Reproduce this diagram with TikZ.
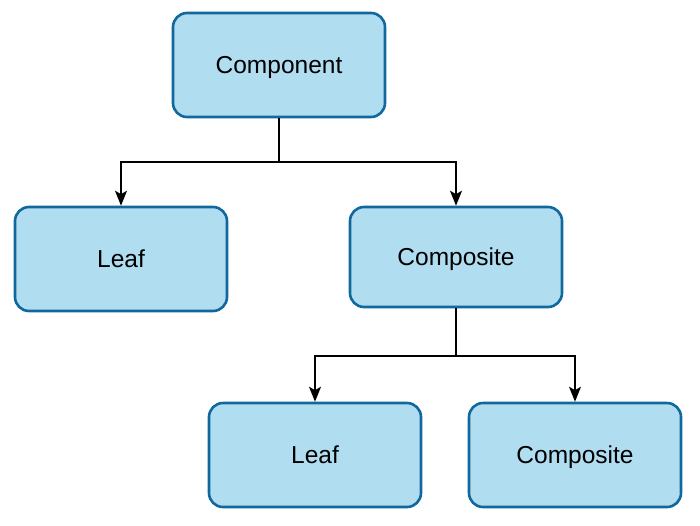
\documentclass[tikz,border=0pt]{standalone}
\usepackage{fontspec}
\setmainfont{Liberation Sans}
\usetikzlibrary{arrows.meta}
\definecolor{boxfill}{HTML}{B1DDF0}
\definecolor{boxline}{HTML}{10689E}
\begin{document}
\begin{tikzpicture}[x=1pt,y=-1pt,
  box/.style={draw=boxline,fill=boxfill,line width=2.6pt,rounded corners=14pt,
    minimum width=212pt,minimum height=104pt,inner sep=0pt,
    text height=17.6pt,text depth=0pt,
    font=\fontsize{24.5}{29}\selectfont},
  conn/.style={draw=black,line width=1.6pt,-{Stealth[length=15pt,width=12pt,inset=3.5pt]}}]
\useasboundingbox (0,0) rectangle (700,525);
\node[box] (comp) at (279,65) {Component};
\node[box] (leaf1) at (121,259) {Leaf};
\node[box,minimum height=100pt] (compo) at (456,257) {Composite};
\node[box] (leaf2) at (315,455) {Leaf};
\node[box] (compo2) at (575,455) {Composite};
\coordinate (j1) at (279,162);
\coordinate (j2) at (456,356);
\draw[conn] (comp.south) -- (j1) -| (leaf1.north);
\draw[conn] (j1) -| (compo.north);
\draw[conn] (compo.south) -- (j2) -| (leaf2.north);
\draw[conn] (j2) -| (compo2.north);
\end{tikzpicture}
\end{document}
